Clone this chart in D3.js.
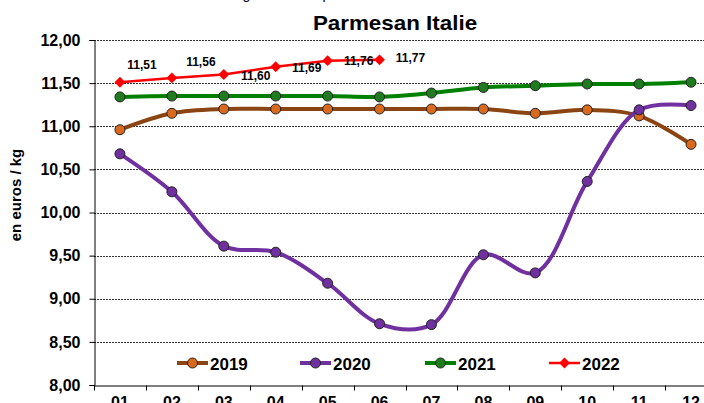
<!DOCTYPE html>
<html>
<head>
<meta charset="utf-8">
<script src="https://cdn.jsdelivr.net/npm/d3@7"></script>
<style>
  body { margin: 0; background: #fff; }
  text { font-family: "Liberation Sans", Arial, sans-serif; font-weight: bold; fill: #000; }
</style>
</head>
<body>
<div id="chart"></div>
<script>
(function () {

    // months
    const months = ['01', '02', '03', '04', '05', '06', '07', '08', '09', '10', '11', '12'];

    // prices in euros / kg
    const v2019 = [10.96, 11.15, 11.20, 11.20, 11.20, 11.20, 11.20, 11.20, 11.15, 11.19, 11.12, 10.79];
    const v2020 = [10.68, 10.24, 9.61, 9.54, 9.18, 8.71, 8.70, 9.51, 9.30, 10.36, 11.19, 11.24];
    const v2021 = [11.34, 11.35, 11.35, 11.35, 11.35, 11.34, 11.385, 11.45, 11.47, 11.49, 11.49, 11.51];
    const v2022 = [11.51, 11.56, 11.60, 11.69, 11.76, 11.77];

    const yTicks = [8, 8.5, 9, 9.5, 10, 10.5, 11, 11.5, 12];

    // label offsets for 2022 values (layout only)
    const labelDx = [22, 29, 32, 31, 31, 31];
    const labelDy = [-17, -16, 1, 1, 0, -2];

    const W = 704, H = 403;
    const left = 94, right = 717, top = 40, bottom = 385;

    var x = d3.scaleBand().domain(months).range([left, right]);
    var y = d3.scaleLinear().domain([8, 12]).range([bottom, top]);
    const cx = m => x(m) + x.bandwidth() / 2;
    const fmt = d => d3.format('.2f')(d).replace('.', ',');

    var svg = d3.select('#chart').append('svg')
        .attr('width', W)
        .attr('height', H);

    // cut-off caption at the very top
    svg.append('text')
        .attr('x', 195).attr('y', -1)
        .style('font-size', '14px')
        .style('font-weight', 'normal')
        .text('Prix de gros en Europe');

    // title
    svg.append('text')
        .attr('transform', 'translate(395,30) scale(1.12,1)')
        .attr('text-anchor', 'middle')
        .style('font-size', '20px')
        .text('Parmesan Italie');

    // grid lines
    svg.append('g')
        .selectAll('line')
        .data(yTicks.filter(d => d > 8))
        .join('line')
        .attr('x1', left).attr('x2', W)
        .attr('y1', d => Math.round(y(d)) + 0.5)
        .attr('y2', d => Math.round(y(d)) + 0.5)
        .attr('stroke', '#000')
        .attr('stroke-width', 0.8)
        .attr('stroke-dasharray', '2,1');

    // Y axis
    var yAxis = svg.append('g')
        .attr('transform', 'translate(' + (left + 0.5) + ',0)')
        .call(d3.axisLeft(y).tickValues(yTicks).tickSize(5).tickPadding(9).tickFormat(fmt));
    yAxis.select('.domain').attr('stroke', '#000');
    yAxis.selectAll('text').style('font-size', '16px');

    // X axis
    var xAxis = svg.append('g')
        .attr('transform', 'translate(0,' + (bottom + 0.5) + ')')
        .call(d3.axisBottom(x).tickSize(0).tickPadding(11));
    xAxis.select('.domain').attr('stroke', '#000');
    xAxis.selectAll('text').style('font-size', '16px');
    xAxis.selectAll('.sep')
        .data(months)
        .join('line')
        .attr('class', 'sep')
        .attr('x1', m => Math.round(x(m)) + 0.5)
        .attr('x2', m => Math.round(x(m)) + 0.5)
        .attr('y1', 0).attr('y2', 5)
        .attr('stroke', '#000');

    // y title
    svg.append('text')
        .attr('transform', 'translate(21,195) rotate(-90)')
        .attr('text-anchor', 'middle')
        .style('font-size', '15px')
        .text('en euros / kg');

    const series = [
        { name: '2019', values: v2019, line: '#8B4513', fill: '#D9691C' },
        { name: '2020', values: v2020, line: '#7030A0', fill: '#7030A0' },
        { name: '2021', values: v2021, line: '#008000', fill: '#1E7B1E' }
    ];

    var smooth = d3.line()
        .x((d, i) => cx(months[i]))
        .y(d => y(d))
        .curve(d3.curveCatmullRom.alpha(0.5));

    series.forEach(function (s) {
        var g = svg.append('g');
        g.append('path')
            .datum(s.values)
            .attr('fill', 'none')
            .attr('stroke', s.line)
            .attr('stroke-width', 4)
            .attr('d', smooth);
        g.selectAll('circle')
            .data(s.values)
            .join('circle')
            .attr('cx', (d, i) => cx(months[i]))
            .attr('cy', d => y(d))
            .attr('r', 5)
            .attr('fill', s.fill)
            .attr('stroke', '#222')
            .attr('stroke-width', 1);
    });

    // 2022, straight segments with diamonds
    var straight = d3.line()
        .x((d, i) => cx(months[i]))
        .y(d => y(d));
    var diamond = d3.symbol().type(d3.symbolDiamond2).size(75);
    var g22 = svg.append('g');
    g22.append('path')
        .datum(v2022)
        .attr('fill', 'none')
        .attr('stroke', '#FF0000')
        .attr('stroke-width', 2.5)
        .attr('d', straight);
    g22.selectAll('path.m')
        .data(v2022)
        .join('path')
        .attr('class', 'm')
        .attr('transform', (d, i) => 'translate(' + cx(months[i]) + ',' + y(d) + ')')
        .attr('d', diamond)
        .attr('fill', '#FF0000');
    g22.selectAll('text')
        .data(v2022)
        .join('text')
        .attr('x', (d, i) => cx(months[i]) + labelDx[i])
        .attr('y', (d, i) => y(d) + labelDy[i] + 4)
        .attr('text-anchor', 'middle')
        .style('font-size', '12px')
        .text(fmt);

    // legend
    const legendX = [177, 300, 425, 549];
    const legendItems = series.concat([{ name: '2022', line: '#FF0000', fill: '#FF0000', diamond: true }]);
    var lg = svg.append('g')
        .selectAll('g')
        .data(legendItems)
        .join('g')
        .attr('transform', (d, i) => 'translate(' + legendX[i] + ',363)');
    lg.append('line')
        .attr('x1', 0).attr('x2', 31)
        .attr('stroke', d => d.line)
        .attr('stroke-width', d => d.diamond ? 2.5 : 4);
    lg.filter(d => !d.diamond).append('circle')
        .attr('cx', 15.5).attr('r', 5)
        .attr('fill', d => d.fill)
        .attr('stroke', '#222');
    lg.filter(d => d.diamond).append('path')
        .attr('transform', 'translate(15.5,0)')
        .attr('d', diamond)
        .attr('fill', '#FF0000');
    lg.append('text')
        .attr('x', 33).attr('y', 7)
        .style('font-size', '17px')
        .text(d => d.name);
})();
</script>
</body>
</html>
